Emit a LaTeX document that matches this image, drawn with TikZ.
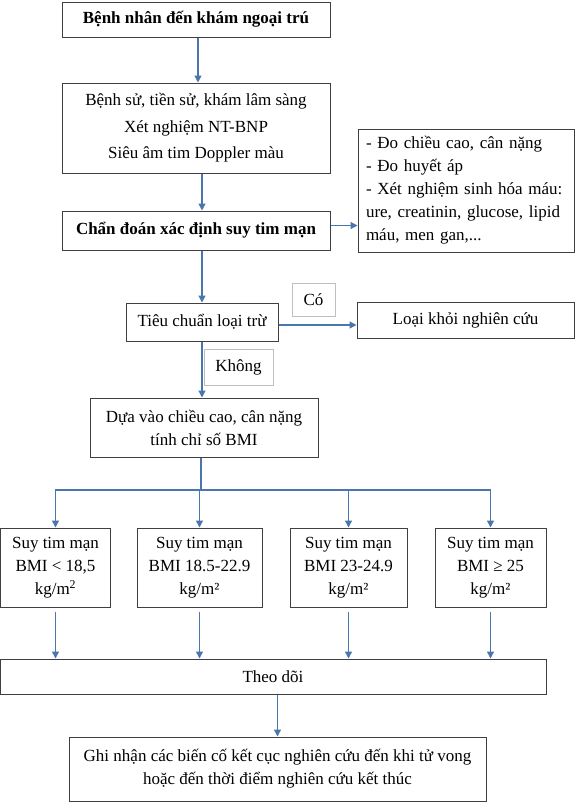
\documentclass[tikz,border=0pt]{standalone}
\usepackage{fontspec}
\setmainfont{Liberation Serif}
\usetikzlibrary{positioning,arrows.meta}
\definecolor{flowblue}{HTML}{4A76AE}
\definecolor{boxgray}{HTML}{404040}
\definecolor{taggray}{HTML}{BFBFBF}

\begin{document}
\begin{tikzpicture}[x=1pt, y=-1pt,
    box/.style={draw=boxgray, line width=1pt, inner sep=2pt, align=center, font=\fontsize{17}{23}\selectfont},
    head/.style={box, font=\fontsize{17}{23}\selectfont\bfseries},
    tag/.style={draw=taggray, line width=1pt, inner sep=2pt, font=\fontsize{17}{23}\selectfont},
    flow/.style={draw=flowblue, line width=1.3pt, -{Triangle[length=7pt,width=7pt]}},
    link/.style={draw=flowblue, line width=1.3pt}]
    \useasboundingbox (0,0) rectangle (576,804);
    % Boxes of the main column
    \node[head, minimum width=268pt, minimum height=35pt] (start) at (196,19.5) {Bệnh nhân đến khám ngoại trú};
    \node[box, font=\fontsize{17}{26.5}\selectfont, minimum width=268pt, minimum height=90pt] (hist) at (196,128)
        {Bệnh sử, tiền sử, khám lâm sàng\\Xét nghiệm NT-BNP\\Siêu âm tim Doppler màu};
    \node[head, minimum width=268pt, minimum height=39pt] (diag) at (196,230.5) {Chẩn đoán xác định suy tim mạn};
    \node[box, align=left, text width=200pt, inner xsep=8pt, minimum height=123pt] (side) at (466,190.5)
        {- Đo chiều cao, cân nặng\\- Đo huyết áp\\- Xét nghiệm sinh hóa máu:\\ure, creatinin, glucose, lipid\\máu, men gan,...};
    \node[box, minimum width=152pt, minimum height=38pt] (excl) at (202,322) {Tiêu chuẩn loại trừ};
    \node[tag, minimum width=43pt, minimum height=33pt] (yes) at (313.5,299.5) {Có};
    \node[box, minimum width=217pt, minimum height=36pt] (out) at (465.5,320) {Loại khỏi nghiên cứu};
    \node[tag, minimum width=69pt, minimum height=36pt] (no) at (238.5,367) {Không};
    \node[box, minimum width=228pt, minimum height=59pt] (bmi) at (204,427.5)
        {Dựa vào chiều cao, cân nặng\\tính chỉ số BMI};
    % BMI groups
    \node[box, minimum width=110pt, minimum height=79pt] (g1) at (55.5,567.5) {Suy tim mạn\\BMI < 18,5\\kg/m\textsuperscript{2}};
    \node[box, minimum width=125pt, minimum height=79pt] (g2) at (199.5,567.5) {Suy tim mạn\\BMI 18.5-22.9\\kg/m²};
    \node[box, minimum width=117pt, minimum height=79pt] (g3) at (348.5,567.5) {Suy tim mạn\\BMI 23-24.9\\kg/m²};
    \node[box, minimum width=111pt, minimum height=79pt] (g4) at (490.5,567.5) {Suy tim mạn\\BMI ≥ 25\\kg/m²};
    \node[box, minimum width=546pt, minimum height=35pt] (follow) at (273,676.5) {Theo dõi};
    \node[box, minimum width=417pt, minimum height=64pt] (record) at (277.5,769)
        {Ghi nhận các biến cố kết cục nghiên cứu đến khi tử vong\\hoặc đến thời điểm nghiên cứu kết thúc};
    % Arrows
    \draw[flow] ([xshift=2pt]start.south) -- ([xshift=2pt]hist.north);
    \draw[flow] ([xshift=6pt]hist.south) -- ([xshift=6pt]diag.north);
    \draw[flow] ([yshift=5pt]diag.east) -- ([yshift=5pt]diag.east -| side.west);
    \draw[flow] (diag.south -| excl) -- (excl.north);
    \draw[flow] ([yshift=-3pt]excl.east) -- ([yshift=-3pt]excl.east -| out.west);
    \draw[flow] (excl.south) -- (excl.south |- bmi.north);
    \coordinate (split) at (201,490);
    \draw[link] (bmi.south -| split) -- (split);
    \foreach \g in {g1,g2,g3,g4} {
        \draw[flow] (split) -| (\g.north);
        \draw[flow] ([yshift=-4pt]\g.south) -- (\g.south |- follow.north);
    }
    \draw[flow] (follow.south -| record) -- (record.north);
\end{tikzpicture}
\end{document}
